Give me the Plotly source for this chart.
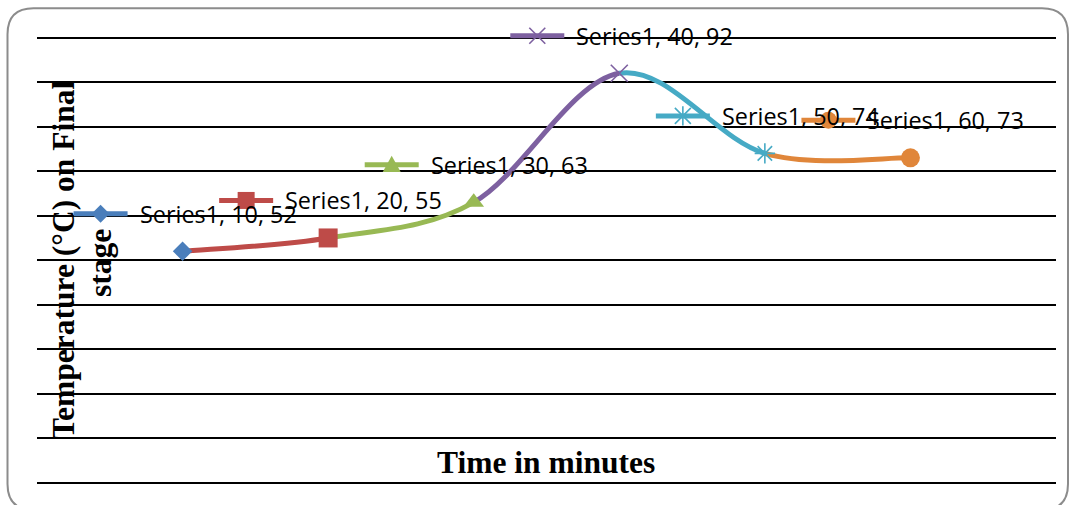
import plotly.graph_objects as go

# Temperature readings over time (final stage)
minutes = [10, 20, 30, 40, 50, 60]
temps = [52, 55, 63, 92, 74, 73]
series_name = "Series1"

point_colors = ["#4A7EBB", "#BE4B48", "#98B954", "#7D60A0", "#46AAC5", "#E0863A"]
point_symbols = ["diamond", "square", "triangle-up", "x-thin", "asterisk", "circle"]
point_sizes = [15, 19, 18, 17, 17, 19]

W, H = 1069, 505
M_L, M_R, M_T, M_B = 37, 13, 0, 0
PLOT_W = W - M_L - M_R
PLOT_H = H - M_T - M_B

# The value axis keeps a little headroom/footroom so labels near the edges are not clipped
Y_RANGE = [-5.01, 108.47]

fig = go.Figure()
shapes = []
annotations = []

# Smoothed connecting curve, one cubic Bezier per interval (Catmull-Rom style tangents)
n = len(minutes)
pts = list(zip(minutes, temps))
for i in range(n - 1):
    p0 = pts[max(i - 1, 0)]
    p1 = pts[i]
    p2 = pts[i + 1]
    p3 = pts[min(i + 2, n - 1)]
    c1 = (p1[0] + (p2[0] - p0[0]) / 6, p1[1] + (p2[1] - p0[1]) / 6)
    c2 = (p2[0] - (p3[0] - p1[0]) / 6, p2[1] - (p3[1] - p1[1]) / 6)
    path = f"M {p1[0]},{p1[1]} C {c1[0]},{c1[1]} {c2[0]},{c2[1]} {p2[0]},{p2[1]}"
    shapes.append(dict(type="path", xref="x", yref="y", path=path, layer="between",
                       line=dict(color=point_colors[i + 1], width=5)))

# Point markers
for x, y, c, s, sz in zip(minutes, temps, point_colors, point_symbols, point_sizes):
    thin = s in ("x-thin", "asterisk")
    fig.add_trace(go.Scatter(
        x=[x], y=[y], mode="markers", showlegend=False, hoverinfo="skip",
        marker=dict(symbol=s, size=sz, color=c,
                    line=dict(color=c, width=1.6 if thin else 0)),
    ))


def key_marker(symbol, cx, cy, color):
    """Return a pixel-space shape dict for a legend-key marker centred at (cx, cy)."""
    if symbol == "circle":
        r = 8.5
        return dict(type="circle", x0=cx - r, x1=cx + r, y0=cy - r, y1=cy + r,
                    fillcolor=color, line=dict(width=0))
    if symbol == "diamond":
        r = 9
        p = f"M {cx},{cy + r} L {cx + r},{cy} L {cx},{cy - r} L {cx - r},{cy} Z"
        return dict(type="path", path=p, fillcolor=color, line=dict(width=0))
    if symbol == "square":
        r = 8.5
        p = f"M {cx - r},{cy - r} L {cx + r},{cy - r} L {cx + r},{cy + r} L {cx - r},{cy + r} Z"
        return dict(type="path", path=p, fillcolor=color, line=dict(width=0))
    if symbol == "triangle-up":
        r = 9
        p = f"M {cx},{cy + r} L {cx + r},{cy - r * 0.8} L {cx - r},{cy - r * 0.8} Z"
        return dict(type="path", path=p, fillcolor=color, line=dict(width=0))
    if symbol == "x-thin":
        r = 8
        p = (f"M {cx - r},{cy - r} L {cx + r},{cy + r} "
             f"M {cx - r},{cy + r} L {cx + r},{cy - r}")
        return dict(type="path", path=p, line=dict(color=color, width=1.6))
    # asterisk
    r = 8
    p = (f"M {cx - r},{cy - r} L {cx + r},{cy + r} "
         f"M {cx - r},{cy + r} L {cx + r},{cy - r} "
         f"M {cx},{cy - r * 1.2} L {cx},{cy + r * 1.2}")
    return dict(type="path", path=p, line=dict(color=color, width=1.6))


# Data labels: a small legend key plus "Series1, x, y"
KEY_DX, KEY_DY, KEY_HALF = -82, 37.5, 27
for x, y, c, s in zip(minutes, temps, point_colors, point_symbols):
    base = dict(xref="x", yref="y", xsizemode="pixel", ysizemode="pixel",
                xanchor=x, yanchor=y, layer="above")
    shapes.append(dict(base, type="line", x0=KEY_DX - KEY_HALF, x1=KEY_DX + KEY_HALF,
                       y0=KEY_DY, y1=KEY_DY, line=dict(color=c, width=5)))
    shapes.append(dict(base, **key_marker(s, KEY_DX, KEY_DY, c)))
    annotations.append(dict(
        x=x, y=y, xref="x", yref="y", text=f"{series_name}, {x}, {y}",
        showarrow=False, xanchor="left", yanchor="middle", borderpad=0,
        xshift=-44, yshift=KEY_DY,
        font=dict(family="Open Sans", size=23.4, color="#000000"),
    ))

# Rounded chart frame, drawn in pixels relative to the plot's lower-left corner
fx0, fx1, fy0, fy1, rad = -29.5, 1031, -5, 496.7, 26
frame = (f"M {fx0 + rad},{fy1} L {fx1 - rad},{fy1} Q {fx1},{fy1} {fx1},{fy1 - rad} "
         f"L {fx1},{fy0 + rad} Q {fx1},{fy0} {fx1 - rad},{fy0} "
         f"L {fx0 + rad},{fy0} Q {fx0},{fy0} {fx0},{fy0 + rad} "
         f"L {fx0},{fy1 - rad} Q {fx0},{fy1} {fx0 + rad},{fy1} Z")
shapes.append(dict(type="path", xref="paper", yref="paper", xsizemode="pixel",
                   ysizemode="pixel", xanchor=0, yanchor=0, path=frame,
                   line=dict(color="#8C8C8C", width=2), layer="above"))


def py_to_paper(py):
    return (M_T + PLOT_H - py) / PLOT_H


def px_to_paper(px):
    return (px - M_L) / PLOT_W


# Axis titles
title_font = dict(family="Liberation Serif", size=31.5, color="#000000")
annotations.append(dict(
    text="<b>Time in minutes</b>", xref="paper", yref="paper",
    x=px_to_paper(546), y=py_to_paper(462.5),
    xanchor="center", yanchor="middle", showarrow=False, font=title_font,
))
annotations.append(dict(
    text="<b>Temperature (°C) on Final</b>", xref="paper", yref="paper",
    x=px_to_paper(63), y=py_to_paper(260), textangle=-90,
    xanchor="center", yanchor="middle", showarrow=False, font=title_font,
))
annotations.append(dict(
    text="<b>stage</b>", xref="paper", yref="paper",
    x=px_to_paper(100), y=py_to_paper(263), textangle=-90,
    xanchor="center", yanchor="middle", showarrow=False, font=title_font,
))

fig.update_layout(
    width=W, height=H,
    margin=dict(l=M_L, r=M_R, t=M_T, b=M_B, pad=0),
    paper_bgcolor="white", plot_bgcolor="white",
    showlegend=False,
    shapes=shapes, annotations=annotations,
    xaxis=dict(range=[0, 70], showgrid=False, zeroline=False, showline=False,
               showticklabels=False, ticks=""),
    yaxis=dict(range=Y_RANGE, tick0=0, dtick=10, showgrid=True, gridcolor="#000000",
               gridwidth=1.6, zeroline=False, showline=False,
               showticklabels=False, ticks=""),
)

fig.write_html("out.html")
